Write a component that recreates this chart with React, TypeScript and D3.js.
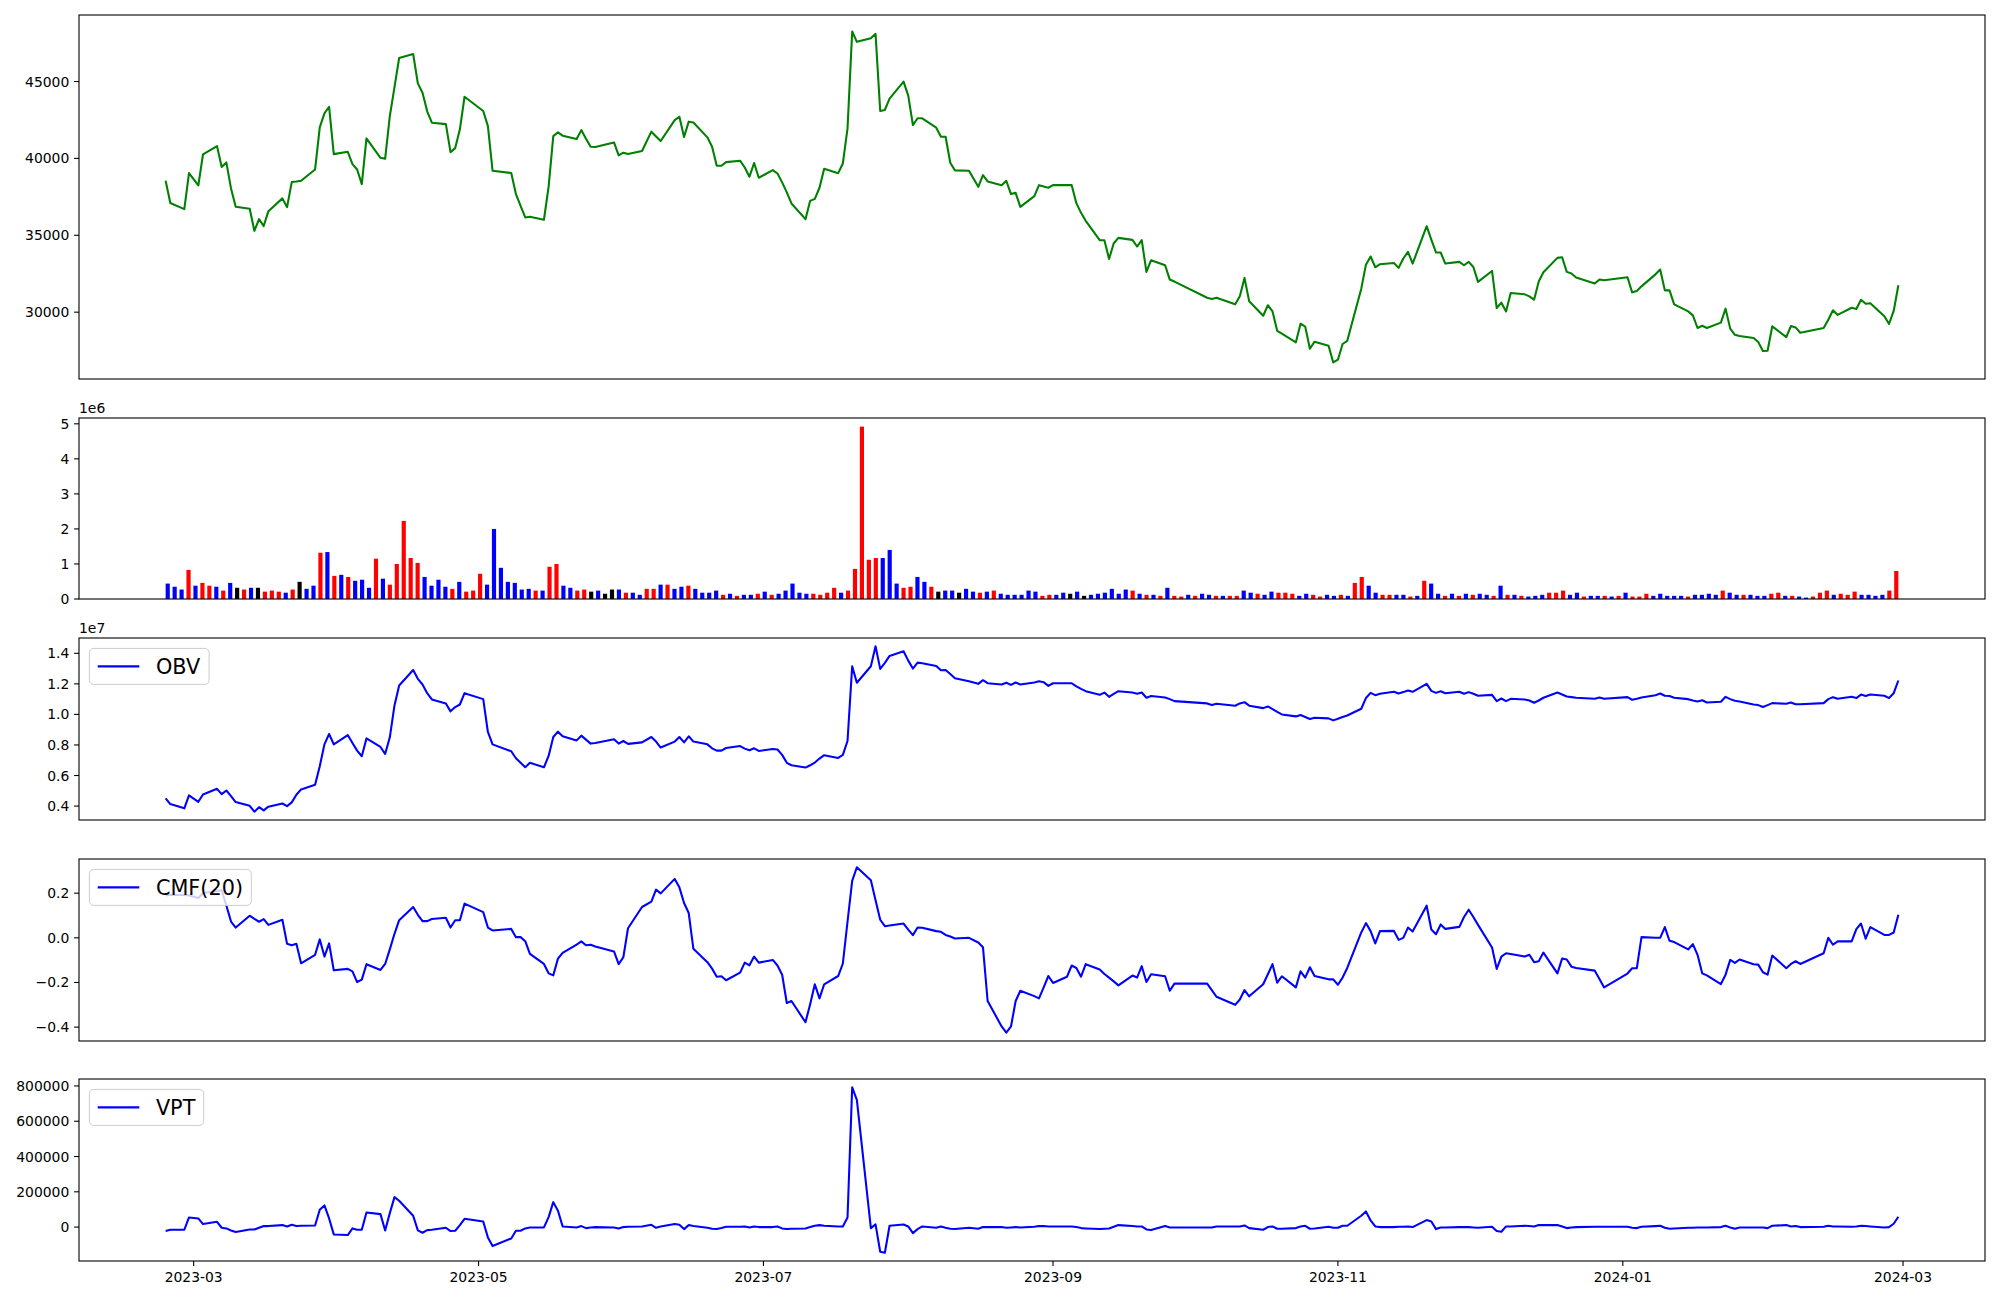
import * as d3 from 'd3';

// KRX closing days inside the plotted range
const holidays = [
  '2023-03-01', '2023-05-01', '2023-05-05', '2023-05-29', '2023-06-06', '2023-08-15',
  '2023-09-28', '2023-09-29', '2023-10-02', '2023-10-03', '2023-10-09', '2023-12-25',
  '2023-12-29', '2024-01-01', '2024-02-09', '2024-02-12',
];
const firstDay = '2023-02-23';
const lastDay = '2024-02-29';

const close = [
  38550, 37100, 36700, 39050, 38240, 40260, 40800, 39440, 39740, 38050,
  36850, 36720, 35290, 36050, 35600, 36570, 37400, 36830, 38460, 38500,
  38550, 39280, 42020, 42930, 43360, 40280, 40430, 39630, 39280, 38330,
  41300, 40040, 39980, 42750, 44640, 46530, 46790, 44880, 44270, 43060,
  42320, 42230, 40410, 40670, 41890, 44010, 43080, 42100, 39200, 39050,
  37680, 36920, 36160, 36200, 36010, 38160, 41450, 41690, 41480, 41260,
  41840, 41280, 40760, 40740, 41040, 40200, 40370, 40280, 40480, 41740,
  41430, 41130, 42490, 42710, 41390, 42390, 42340, 41370, 40760, 39520,
  39520, 39760, 39850, 39410, 38810, 39700, 38740, 39240, 39020, 38440,
  37790, 37070, 36050, 37240, 37370, 38090, 39330, 39040, 39670, 41950,
  48250, 47580, 47820, 48100, 43080, 43150, 43890, 44990, 44080, 42170,
  42610, 42610, 42000, 41410, 41410, 39720, 39220, 39200, 38150, 38910,
  38500, 38260, 38540, 37680, 37760, 36850, 37550, 38260, 38180, 38090,
  38260, 38260, 38260, 37090, 36460, 35940, 34680, 34680, 33460, 34480,
  34830, 34700, 34270, 34680, 32620, 33380, 33050, 32120, 31990, 30940,
  30860, 30940, 30510, 31030, 32230, 30710, 29770, 30450, 30050, 28790,
  28600, 28040, 29250, 29060, 27620, 28080, 27820, 26730, 26910, 27930,
  28140, 31530, 33090, 33620, 32920, 33120, 33200, 32880, 33490, 33920,
  33160, 35590, 34720, 33880, 33880, 33160, 33270, 33050, 33270, 32940,
  31970, 32680, 30270, 30620, 30050, 31250, 31160, 31030, 30810, 31990,
  32600, 33530, 33570, 32620, 32510, 32250, 31860, 32120, 32070, 32270,
  31290, 31380, 31680, 32460, 32770, 31420, 31420, 30510, 30050, 29790,
  28970, 29120, 28970, 29320, 30230, 28930, 28530, 28450, 28320, 28060,
  27470, 27490, 29080, 28380, 29100, 29010, 28660, 28970, 29510, 30120,
  29820, 30290, 30210, 30810, 30550, 30580, 29730, 29230, 30080, 31750,
];

// volume in millions of shares
const volumeM = [
  0.44, 0.35, 0.27, 0.83, 0.38, 0.46, 0.38, 0.35, 0.24, 0.46,
  0.32, 0.27, 0.32, 0.32, 0.21, 0.24, 0.21, 0.18, 0.27, 0.49,
  0.29, 0.38, 1.32, 1.34, 0.66, 0.69, 0.63, 0.52, 0.55, 0.32,
  1.15, 0.58, 0.41, 1.00, 2.23, 1.17, 1.03, 0.63, 0.38, 0.55,
  0.35, 0.29, 0.49, 0.21, 0.24, 0.72, 0.41, 2.00, 0.89, 0.49,
  0.46, 0.27, 0.29, 0.24, 0.24, 0.92, 1.00, 0.38, 0.32, 0.24,
  0.27, 0.21, 0.24, 0.15, 0.27, 0.27, 0.18, 0.18, 0.12, 0.29,
  0.29, 0.41, 0.41, 0.29, 0.35, 0.38, 0.29, 0.18, 0.18, 0.24,
  0.12, 0.15, 0.09, 0.12, 0.12, 0.15, 0.21, 0.12, 0.15, 0.24,
  0.44, 0.18, 0.15, 0.15, 0.12, 0.18, 0.32, 0.18, 0.24, 0.86,
  4.92, 1.12, 1.17, 1.17, 1.40, 0.44, 0.32, 0.35, 0.63, 0.49,
  0.35, 0.21, 0.24, 0.24, 0.18, 0.29, 0.21, 0.18, 0.21, 0.24,
  0.15, 0.12, 0.12, 0.12, 0.24, 0.21, 0.09, 0.12, 0.12, 0.18,
  0.15, 0.21, 0.09, 0.12, 0.15, 0.18, 0.29, 0.15, 0.27, 0.24,
  0.15, 0.12, 0.12, 0.09, 0.32, 0.09, 0.07, 0.12, 0.09, 0.15,
  0.12, 0.09, 0.09, 0.09, 0.09, 0.24, 0.18, 0.15, 0.12, 0.21,
  0.18, 0.18, 0.15, 0.09, 0.15, 0.12, 0.07, 0.12, 0.09, 0.12,
  0.09, 0.46, 0.63, 0.38, 0.18, 0.12, 0.12, 0.12, 0.12, 0.07,
  0.09, 0.52, 0.44, 0.15, 0.09, 0.15, 0.09, 0.15, 0.12, 0.15,
  0.12, 0.09, 0.38, 0.12, 0.12, 0.09, 0.07, 0.09, 0.12, 0.18,
  0.18, 0.24, 0.12, 0.18, 0.07, 0.09, 0.09, 0.09, 0.07, 0.09,
  0.18, 0.07, 0.07, 0.15, 0.09, 0.15, 0.09, 0.09, 0.09, 0.07,
  0.12, 0.12, 0.15, 0.12, 0.24, 0.18, 0.12, 0.12, 0.12, 0.09,
  0.09, 0.15, 0.18, 0.09, 0.09, 0.07, 0.04, 0.07, 0.18, 0.24,
  0.12, 0.15, 0.12, 0.21, 0.12, 0.12, 0.09, 0.12, 0.24, 0.80,
];

// bar colour per day: r = up, b = down, k = flat
const volumeColor =
  'bbbrbrrbrb' + 'krbkrrrbrk' + 'bbrbrbrbbb' + 'rbrrrrrbbb' + 'brbrrrbbbb' +
  'bbbrbrrbbr' + 'rkbkkbrbbr' + 'rbrbbrbbbb' + 'rbrbbrbrbb' + 'bbbrrrrbrr' +
  'rrrbbbrrbb' + 'rkbbkbbrbr' + 'bbbbbbrrbb' + 'kbkbbbbbbr' + 'brbrbrrbrb' +
  'brbrrbbrbb' + 'rrrbbrrbbr' + 'brrbbrrbbr' + 'brbbrbrbrb' + 'brbrbrbbbr' +
  'rrbbrbbrbr' + 'brrrbbbbbr' + 'bbbbrbbrbb' + 'brrbrbbrrr' + 'brrrbbbbrr';

// OBV in units of 1e7
const obv = [
  0.450, 0.413, 0.385, 0.470, 0.428, 0.476, 0.513, 0.478, 0.502, 0.465,
  0.426, 0.402, 0.363, 0.393, 0.372, 0.396, 0.417, 0.400, 0.424, 0.474,
  0.509, 0.539, 0.661, 0.804, 0.872, 0.804, 0.865, 0.813, 0.763, 0.726,
  0.843, 0.787, 0.741, 0.850, 1.059, 1.189, 1.291, 1.233, 1.196, 1.139,
  1.098, 1.072, 1.020, 1.048, 1.065, 1.139, 1.100, 0.885, 0.804, 0.759,
  0.713, 0.683, 0.654, 0.683, 0.654, 0.728, 0.852, 0.887, 0.857, 0.830,
  0.861, 0.835, 0.809, 0.813, 0.837, 0.809, 0.826, 0.807, 0.817, 0.852,
  0.822, 0.783, 0.822, 0.852, 0.817, 0.857, 0.822, 0.804, 0.778, 0.763,
  0.763, 0.780, 0.793, 0.776, 0.765, 0.778, 0.761, 0.774, 0.770, 0.735,
  0.683, 0.667, 0.652, 0.667, 0.685, 0.711, 0.733, 0.715, 0.735, 0.826,
  1.315, 1.207, 1.315, 1.446, 1.298, 1.337, 1.383, 1.413, 1.352, 1.300,
  1.339, 1.335, 1.317, 1.289, 1.291, 1.265, 1.237, 1.217, 1.200, 1.224,
  1.204, 1.196, 1.207, 1.193, 1.209, 1.196, 1.209, 1.217, 1.211, 1.187,
  1.204, 1.204, 1.204, 1.183, 1.167, 1.152, 1.128, 1.143, 1.115, 1.135,
  1.152, 1.143, 1.135, 1.143, 1.109, 1.120, 1.111, 1.100, 1.087, 1.072,
  1.061, 1.070, 1.057, 1.072, 1.080, 1.057, 1.041, 1.052, 1.035, 1.017,
  1.000, 0.987, 0.996, 0.983, 0.970, 0.978, 0.974, 0.961, 0.972, 0.983,
  0.993, 1.037, 1.107, 1.141, 1.126, 1.135, 1.148, 1.137, 1.146, 1.157,
  1.148, 1.200, 1.154, 1.141, 1.152, 1.139, 1.148, 1.135, 1.146, 1.135,
  1.122, 1.128, 1.087, 1.104, 1.087, 1.102, 1.098, 1.091, 1.076, 1.091,
  1.109, 1.143, 1.130, 1.117, 1.113, 1.109, 1.102, 1.111, 1.102, 1.113,
  1.096, 1.102, 1.111, 1.126, 1.137, 1.122, 1.120, 1.109, 1.100, 1.091,
  1.085, 1.093, 1.078, 1.083, 1.115, 1.100, 1.089, 1.085, 1.065, 1.061,
  1.048, 1.061, 1.074, 1.070, 1.078, 1.067, 1.067, 1.074, 1.100, 1.113,
  1.102, 1.115, 1.107, 1.130, 1.120, 1.130, 1.122, 1.107, 1.139, 1.222,
];

const cmf = [
  0.190, 0.193, 0.192, 0.190, 0.178, 0.201, 0.210, 0.213, 0.145, 0.073,
  0.046, 0.099, 0.085, 0.072, 0.084, 0.058, 0.081, -0.027, -0.033, -0.027,
  -0.114, -0.076, -0.007, -0.084, -0.025, -0.145, -0.139, -0.150, -0.198, -0.187,
  -0.118, -0.144, -0.117, -0.052, 0.018, 0.079, 0.138, 0.103, 0.075, 0.075,
  0.084, 0.090, 0.046, 0.079, 0.079, 0.153, 0.115, 0.046, 0.033, 0.040,
  0.003, 0.003, -0.015, -0.072, -0.117, -0.159, -0.168, -0.093, -0.067, -0.030,
  -0.016, -0.033, -0.031, -0.039, -0.061, -0.118, -0.087, 0.043, 0.138, 0.162,
  0.216, 0.199, 0.264, 0.226, 0.156, 0.111, -0.049, -0.109, -0.138, -0.174,
  -0.172, -0.190, -0.156, -0.111, -0.123, -0.084, -0.111, -0.099, -0.124, -0.165,
  -0.292, -0.283, -0.378, -0.297, -0.208, -0.271, -0.208, -0.171, -0.115, 0.072,
  0.255, 0.316, 0.258, 0.168, 0.081, 0.052, 0.055, 0.064, 0.037, 0.012,
  0.046, 0.045, 0.030, 0.027, 0.013, 0.006, -0.003, 0.000, -0.021, -0.042,
  -0.283, -0.397, -0.425, -0.397, -0.283, -0.237, -0.261, -0.271, -0.222, -0.171,
  -0.202, -0.174, -0.124, -0.135, -0.174, -0.118, -0.142, -0.162, -0.178, -0.195,
  -0.213, -0.169, -0.178, -0.127, -0.198, -0.163, -0.172, -0.237, -0.205, -0.205,
  -0.234, -0.264, -0.300, -0.276, -0.234, -0.262, -0.208, -0.163, -0.118, -0.201,
  -0.172, -0.222, -0.150, -0.178, -0.132, -0.171, -0.186, -0.186, -0.210, -0.178,
  -0.135, 0.024, 0.066, 0.030, -0.025, 0.030, 0.031, -0.009, 0.000, 0.046,
  0.028, 0.144, 0.037, 0.016, 0.060, 0.040, 0.049, 0.093, 0.126, 0.093,
  0.058, -0.043, -0.139, -0.084, -0.069, -0.072, -0.084, -0.076, -0.109, -0.105,
  -0.066, -0.159, -0.093, -0.097, -0.129, -0.135, -0.147, -0.184, -0.222, -0.160,
  -0.136, -0.136, 0.003, 0.000, 0.000, 0.048, -0.013, -0.019, -0.052, -0.028,
  -0.076, -0.159, -0.168, -0.207, -0.165, -0.099, -0.112, -0.097, -0.118, -0.120,
  -0.154, -0.165, -0.079, -0.136, -0.117, -0.105, -0.117, -0.069, 0.000, -0.031,
  -0.016, -0.016, 0.039, 0.064, -0.004, 0.048, 0.013, 0.013, 0.024, 0.103,
];

// VPT in thousands
const vptK = [
  -22.6, -15.1, -15.1, 54.7, 49.0, 17.0, 30.2, -3.8, -7.5, -18.9,
  -28.3, -13.2, -13.2, -3.8, 5.7, 5.7, 11.3, 3.8, 13.2, 5.7,
  7.5, 9.4, 98.1, 122.6, 49.0, -41.5, -45.3, -7.5, -15.1, -15.1,
  83.0, 73.6, -18.9, 79.2, 169.8, 149.1, 64.2, -18.9, -32.1, -17.0,
  -15.1, -3.8, -22.6, -20.8, 11.3, 47.2, 32.1, -58.5, -107.5, -64.2,
  -20.8, -20.8, -7.5, -1.9, -1.9, 56.6, 141.5, 92.5, 3.8, -1.9,
  5.7, -5.7, -1.9, 0, -1.9, -7.5, 0, 1.9, 3.8, 13.2,
  -3.8, 3.8, 17.0, 13.2, -11.3, 11.3, 5.7, -3.8, -9.4, -11.3,
  -5.7, 1.9, 1.9, 3.8, -1.9, 3.8, 0, 0, 3.8, -7.5,
  -11.3, -9.4, -7.5, 0, 7.5, 11.3, 7.5, 3.8, 3.8, 54.7,
  792.5, 720.8, -5.7, 15.1, -139.6, -145.3, 7.5, 15.1, 3.8, -34.0,
  -11.3, 3.8, -3.8, 3.8, -3.8, -9.4, -11.3, -3.8, -9.4, 0,
  0, 0, -3.8, -1.9, 0, -1.9, 1.9, 5.7, 5.7, 3.8,
  3.8, 3.8, 3.8, 0, -5.7, -7.5, -11.3, -9.4, -7.5, 1.9,
  11.3, 5.7, 3.8, 3.8, -13.2, -17.0, 5.7, -1.9, -1.9, -1.9,
  -1.9, 3.8, 3.8, 3.8, 9.4, -5.7, -15.1, 0, 3.8, -9.4,
  -9.4, -5.7, 3.8, 7.5, -9.4, -7.5, 1.9, -3.8, -3.8, 7.5,
  7.5, 64.2, 88.7, 37.7, 3.8, 0, 0, 1.9, 1.9, 3.8,
  0, 39.6, 32.1, -11.3, -1.9, -1.9, 0, 0, 0, -1.9,
  -3.8, 1.9, -22.6, -26.4, 3.8, 3.8, 7.5, 5.7, 3.8, 11.3,
  11.3, 11.3, 3.8, -5.7, -1.9, 0, 1.9, 1.9, 1.9, 1.9,
  -3.8, -5.7, 1.9, 5.7, 7.5, -3.8, -9.4, -7.5, -3.8, -3.8,
  -1.9, -1.9, -1.9, 0, 7.5, -1.9, -9.4, -1.9, -1.9, -1.9,
  -1.9, -5.7, 7.5, 11.3, 3.8, 5.7, 0, 1.9, 7.5, 3.8,
  3.8, 1.9, 3.8, 7.5, 5.7, 3.8, -1.9, 0, 18.9, 58.5,
];

const priceTicks = [30000, 35000, 40000, 45000];
const volumeTicks = [0, 1, 2, 3, 4, 5];
const obvTicks = [0.4, 0.6, 0.8, 1.0, 1.2, 1.4];
const cmfTicks = [-0.4, -0.2, 0.0, 0.2];
const vptTicks = [0, 200, 400, 600, 800];

const FONT = "'DejaVu Sans', sans-serif";
const TICK_FS = 13.9;
const LEG_FS = 20.8;
const LEFT = 79;
const RIGHT = 1985;
const PANELS = {
  price: [15, 379],
  volume: [418, 599],
  obv: [638, 820],
  cmf: [859, 1041],
  vpt: [1079, 1261],
};
const barColors = { r: '#ff0000', b: '#0000ff', k: '#000000' };

const parse = d3.timeParse('%Y-%m-%d');
const fmtDay = d3.timeFormat('%Y-%m-%d');

function tradingDays() {
  const start = parse(firstDay) as Date;
  const end = parse(lastDay) as Date;
  return d3.timeDay
    .range(start, d3.timeDay.offset(end, 1))
    .filter((d) => d.getDay() !== 0 && d.getDay() !== 6 && !holidays.includes(fmtDay(d)));
}

// matplotlib-like 5% autoscale margin
function padded(vals: number[]): [number, number] {
  const [a, b] = d3.extent(vals) as [number, number];
  const m = (b - a) * 0.05;
  return [a - m, b + m];
}

const minus = (s: string) => s.replace('-', '\u2212');

function YAxis({ scale, ticks, label }: { scale: d3.ScaleLinear<number, number>; ticks: number[]; label: (v: number) => string }) {
  return (
    <g>
      {ticks.map((t) => (
        <g key={t}>
          <line x1={LEFT - 4.9} x2={LEFT} y1={scale(t)} y2={scale(t)} stroke="#000" strokeWidth={1.1} />
          <text x={LEFT - 9.7} y={scale(t) + 5} textAnchor="end" fontSize={TICK_FS} fontFamily={FONT}>
            {label(t)}
          </text>
        </g>
      ))}
    </g>
  );
}

function Frame({ top, bottom }: { top: number; bottom: number }) {
  return <rect x={LEFT} y={top} width={RIGHT - LEFT} height={bottom - top} fill="none" stroke="#000" strokeWidth={1.1} />;
}

function Legend({ top, label, textW }: { top: number; label: string; textW: number }) {
  const x0 = LEFT + 10.4;
  const y0 = top + 10.4;
  const pad = 8.3;
  const handle = 41.6;
  const gap = 16.6;
  const w = pad + handle + gap + textW + pad;
  const h = 36;
  const cy = y0 + h / 2;
  return (
    <g>
      <rect x={x0} y={y0} width={w} height={h} rx={4.2} fill="#fff" fillOpacity={0.8} stroke="#cccccc" strokeWidth={1} />
      <line x1={x0 + pad} x2={x0 + pad + handle} y1={cy} y2={cy} stroke="#0000ff" strokeWidth={2.08} />
      <text x={x0 + pad + handle + gap} y={cy + 7.6} fontSize={LEG_FS} fontFamily={FONT}>
        {label}
      </text>
    </g>
  );
}

export default function App() {
  const dates = tradingDays();
  const n = dates.length;

  const d0 = +dates[0];
  const d1 = +dates[n - 1];
  const span = d1 - d0;
  const x = d3
    .scaleTime()
    .domain([new Date(d0 - 0.05 * span), new Date(d1 + 0.05 * span)])
    .range([LEFT, RIGHT]);

  // volume bars are placed by position, not by date
  const bw = 0.6;
  const ispan = n - 1 + bw;
  const xi = d3
    .scaleLinear()
    .domain([-bw / 2 - 0.05 * ispan, n - 1 + bw / 2 + 0.05 * ispan])
    .range([LEFT, RIGHT]);
  const barW = xi(bw) - xi(0);

  const yPrice = d3.scaleLinear().domain(padded(close)).range([PANELS.price[1], PANELS.price[0]]);
  const yVol = d3.scaleLinear().domain([0, (d3.max(volumeM) as number) * 1.05]).range([PANELS.volume[1], PANELS.volume[0]]);
  const yObv = d3.scaleLinear().domain(padded(obv)).range([PANELS.obv[1], PANELS.obv[0]]);
  const yCmf = d3.scaleLinear().domain(padded(cmf)).range([PANELS.cmf[1], PANELS.cmf[0]]);
  const yVpt = d3.scaleLinear().domain(padded(vptK)).range([PANELS.vpt[1], PANELS.vpt[0]]);

  const lineOf = (y: d3.ScaleLinear<number, number>) =>
    d3
      .line<number>()
      .x((_, i) => x(dates[i]))
      .y((v) => y(v));

  const dateTicks = x.ticks(d3.timeMonth.every(2) as d3.TimeInterval);
  const fmtMonth = d3.timeFormat('%Y-%m');

  return (
    <svg width={2000} height={1300} style={{ position: 'absolute', left: 0, top: 0, background: '#fff' }}>
      <rect width={2000} height={1300} fill="#fff" />

      {/* price */}
      <path d={lineOf(yPrice)(close) ?? ''} fill="none" stroke="#008000" strokeWidth={2.08} strokeLinejoin="round" />
      <YAxis scale={yPrice} ticks={priceTicks} label={(v) => String(v)} />
      <Frame top={PANELS.price[0]} bottom={PANELS.price[1]} />

      {/* volume */}
      {volumeM.map((v, i) => (
        <rect
          key={i}
          x={xi(i) - barW / 2}
          y={yVol(v)}
          width={barW}
          height={yVol(0) - yVol(v)}
          fill={barColors[volumeColor[i] as 'r' | 'b' | 'k']}
        />
      ))}
      <YAxis scale={yVol} ticks={volumeTicks} label={(v) => String(v)} />
      <Frame top={PANELS.volume[0]} bottom={PANELS.volume[1]} />
      <text x={LEFT} y={PANELS.volume[0] - 5} fontSize={TICK_FS} fontFamily={FONT}>1e6</text>

      {/* OBV */}
      <path d={lineOf(yObv)(obv) ?? ''} fill="none" stroke="#0000ff" strokeWidth={2.08} strokeLinejoin="round" />
      <YAxis scale={yObv} ticks={obvTicks} label={(v) => v.toFixed(1)} />
      <Frame top={PANELS.obv[0]} bottom={PANELS.obv[1]} />
      <text x={LEFT} y={PANELS.obv[0] - 5} fontSize={TICK_FS} fontFamily={FONT}>1e7</text>
      <Legend top={PANELS.obv[0]} label="OBV" textW={44.9} />

      {/* CMF */}
      <path d={lineOf(yCmf)(cmf) ?? ''} fill="none" stroke="#0000ff" strokeWidth={2.08} strokeLinejoin="round" />
      <YAxis scale={yCmf} ticks={cmfTicks} label={(v) => minus(v.toFixed(1))} />
      <Frame top={PANELS.cmf[0]} bottom={PANELS.cmf[1]} />
      <Legend top={PANELS.cmf[0]} label="CMF(20)" textW={87.1} />

      {/* VPT */}
      <path d={lineOf(yVpt)(vptK) ?? ''} fill="none" stroke="#0000ff" strokeWidth={2.08} strokeLinejoin="round" />
      <YAxis scale={yVpt} ticks={vptTicks} label={(v) => String(v * 1000)} />
      <Frame top={PANELS.vpt[0]} bottom={PANELS.vpt[1]} />
      <Legend top={PANELS.vpt[0]} label="VPT" textW={39.5} />

      {/* date axis */}
      {dateTicks.map((t) => (
        <g key={+t}>
          <line x1={x(t)} x2={x(t)} y1={PANELS.vpt[1]} y2={PANELS.vpt[1] + 4.9} stroke="#000" strokeWidth={1.1} />
          <text x={x(t)} y={PANELS.vpt[1] + 21} textAnchor="middle" fontSize={TICK_FS} fontFamily={FONT}>
            {fmtMonth(t)}
          </text>
        </g>
      ))}
    </svg>
  );
}
